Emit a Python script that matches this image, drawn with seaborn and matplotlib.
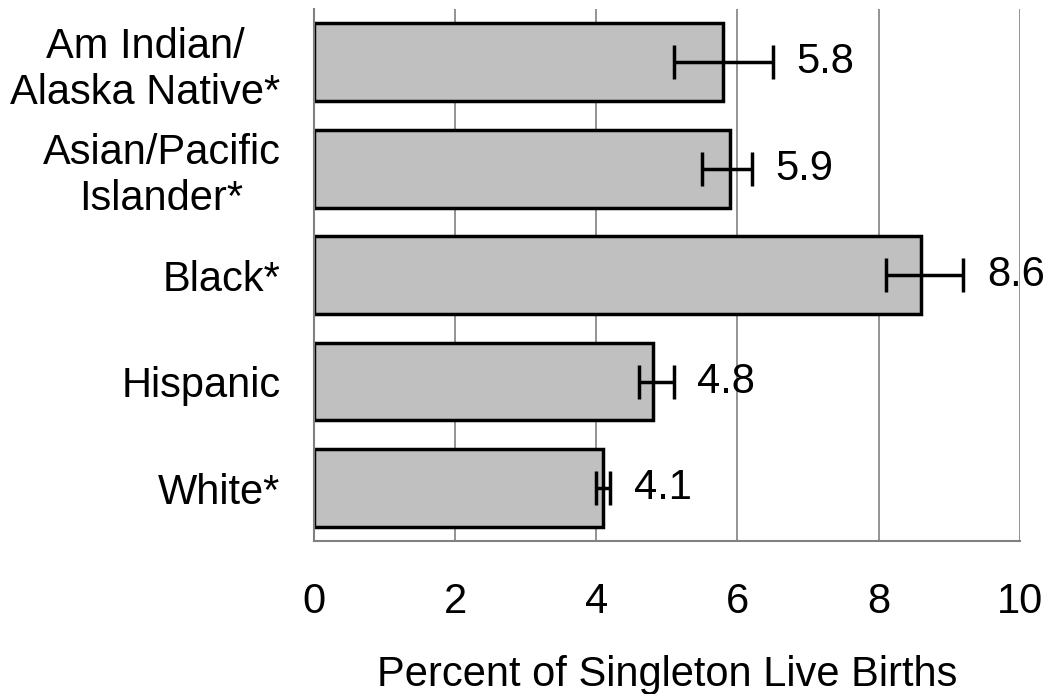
import numpy as np
import pandas as pd
import matplotlib
matplotlib.use("Agg")
import matplotlib.pyplot as plt
import seaborn as sns
from matplotlib.ticker import FixedLocator

# Data
groups = ["Am Indian/\nAlaska Native*", "Asian/Pacific\nIslander*", "Black*", "Hispanic", "White*"]
rates = [5.8, 5.9, 8.6, 4.8, 4.1]
ci_low = [5.1, 5.5, 8.1, 4.6, 4.0]
ci_high = [6.5, 6.2, 9.2, 5.1, 4.2]
value_labels = ["5.8", "5.9", "8.6", "4.8", "4.1"]
x_ticks = [0, 2, 4, 6, 8, 10]

df = pd.DataFrame({"group": groups, "rate": rates})

sns.set_style("white")
plt.rcParams["font.family"] = ["Liberation Sans", "DejaVu Sans"]
plt.rcParams["text.color"] = "black"
plt.rcParams["xtick.labelcolor"] = "black"
plt.rcParams["ytick.labelcolor"] = "black"
plt.rcParams["axes.labelcolor"] = "black"

FS = 30

fig = plt.figure(figsize=(10.46, 6.94), dpi=100)
ax = fig.add_axes([0.300, 0.220, 0.675, 0.767])

sns.barplot(data=df, x="rate", y="group", orient="h", color="#c0c0c0",
            edgecolor="black", linewidth=2.5, width=0.73, saturation=1,
            errorbar=None, ax=ax)

rates_arr = np.array(rates)
xerr = np.vstack([rates_arr - np.array(ci_low), np.array(ci_high) - rates_arr])
ax.errorbar(rates, np.arange(len(groups)), xerr=xerr, fmt="none",
            ecolor="black", elinewidth=2.5, capsize=12, capthick=2.5, zorder=5)

for i, (hi, lab) in enumerate(zip(ci_high, value_labels)):
    ax.annotate(lab, xy=(hi, i), xytext=(17, 0), textcoords="offset points",
                va="center", ha="left", fontsize=FS, color="black")

ax.set_xlim(0, 10)
ax.set_ylim(len(groups) - 0.5, -0.5)
ax.set_xticks(x_ticks)
ax.set_xticklabels([str(t) for t in x_ticks], fontsize=FS)
ax.tick_params(axis="x", length=0, pad=29)

ax.set_yticks(range(len(groups)))
ax.set_yticklabels(groups, fontsize=FS, multialignment="center")
ax.tick_params(axis="y", which="major", length=0, pad=24)
ax.yaxis.set_minor_locator(FixedLocator(np.arange(-0.5, len(groups), 1.0)))
ax.tick_params(axis="y", which="minor", length=12, width=1.5, color="#808080")

ax.xaxis.grid(True, color="#808080", linewidth=1.2)
ax.yaxis.grid(False)
ax.set_axisbelow(True)
for side in ["top", "right"]:
    ax.spines[side].set_visible(False)
for side in ["left", "bottom"]:
    ax.spines[side].set_color("#808080")
    ax.spines[side].set_linewidth(1.5)

ax.set_xlabel("Percent of Singleton Live Births", fontsize=FS, labelpad=24)
ax.set_ylabel("")

fig.savefig("out.png", dpi=100)
